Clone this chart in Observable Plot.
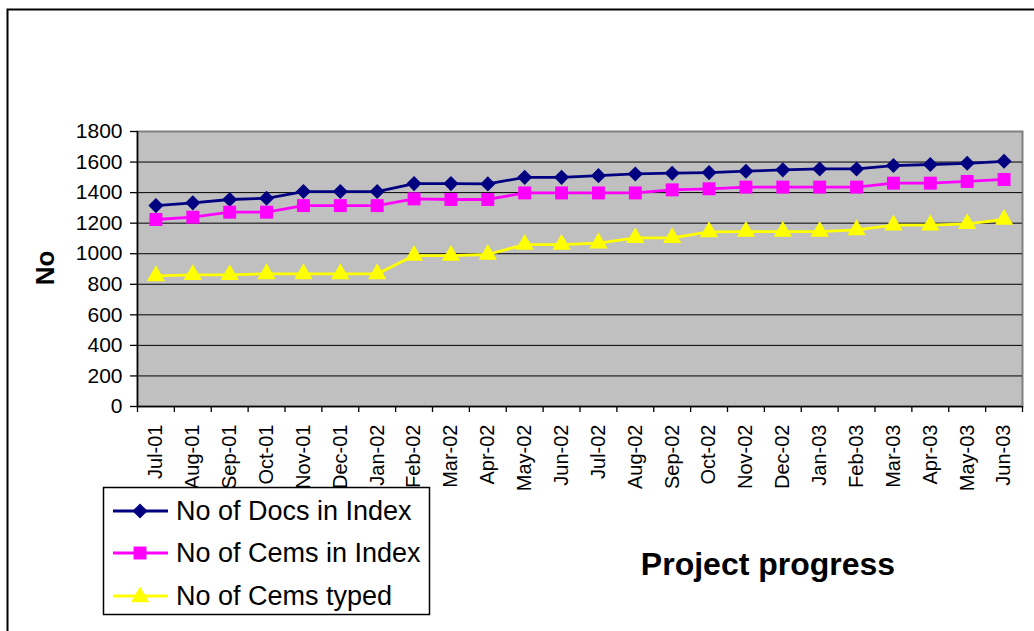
<!DOCTYPE html>
<html>
<head>
<meta charset="utf-8">
<script src="https://cdn.jsdelivr.net/npm/d3@7"></script>
<script src="https://cdn.jsdelivr.net/npm/@observablehq/plot@0.6"></script>
<style>
  html, body { margin: 0; padding: 0; background: #fff; }
  #chart { position: relative; width: 1034px; height: 631px; overflow: hidden; }
  svg { display: block; }
</style>
</head>
<body>
<div id="chart"></div>
<script>
const months = ["Jul-01","Aug-01","Sep-01","Oct-01","Nov-01","Dec-01","Jan-02","Feb-02","Mar-02","Apr-02","May-02","Jun-02","Jul-02","Aug-02","Sep-02","Oct-02","Nov-02","Dec-02","Jan-03","Feb-03","Mar-03","Apr-03","May-03","Jun-03"];
const docsInIndex = [1315,1333,1355,1363,1407,1407,1407,1459,1459,1457,1500,1500,1511,1522,1527,1531,1540,1549,1555,1555,1577,1584,1592,1605];
const cemsInIndex = [1224,1239,1272,1272,1315,1315,1315,1359,1355,1355,1398,1398,1398,1398,1418,1425,1436,1436,1436,1436,1462,1462,1473,1486];
const cemsTyped = [855,862,862,868,868,868,868,988,988,995,1060,1060,1069,1104,1104,1143,1145,1145,1145,1156,1187,1187,1196,1224];
const yTicks = [0,200,400,600,800,1000,1200,1400,1600,1800];
const seriesNames = ["No of Docs in Index","No of Cems in Index","No of Cems typed"];
const seriesColors = ["#000080","#ff00ff","#ffff00"];
const seriesSymbols = ["diamond2","square","triangle"];
const seriesR = [6.8, 7.3, 6.8];

const allSeries = [docsInIndex, cemsInIndex, cemsTyped];
const rows = allSeries.flatMap((vals, s) => vals.map((v, i) => ({i, v, s})));

const font = "'Liberation Sans', Arial, sans-serif";

const marks = [
  Plot.frame({fill: "#c0c0c0", stroke: "#808080", strokeWidth: 2}),
  Plot.ruleY(yTicks.filter(d => d > 0 && d < 1800), {stroke: "black", strokeWidth: 1}),
  Plot.axisY({ticks: yTicks, tickSize: 7, tickPadding: 8, tickFormat: d3.format("d"), label: null, fontSize: 21, strokeWidth: 1.3}),
  Plot.axisX({ticks: d3.range(-0.5, 24, 1), tickSize: 6, tickFormat: () => "", label: null, strokeWidth: 1.3}),
  Plot.axisX({ticks: d3.range(0, 24), tickSize: 0, tickPadding: 18, tickRotate: -90, tickFormat: i => months[i], label: null, fontSize: 20}),
  Plot.ruleX([-0.5], {stroke: "black", strokeWidth: 1.5}),
  Plot.ruleY([0], {stroke: "black", strokeWidth: 1.5})
];
allSeries.forEach((vals, s) => {
  const d = rows.filter(r => r.s === s);
  marks.push(Plot.line(d, {x: "i", y: "v", stroke: seriesColors[s], strokeWidth: 2.8}));
});
allSeries.forEach((vals, s) => {
  const d = rows.filter(r => r.s === s);
  marks.push(Plot.dot(d, {x: "i", y: "v", symbol: () => seriesSymbols[s], fill: seriesColors[s], stroke: "none", r: seriesR[s]}));
});

const chart = Plot.plot({
  width: 1034,
  height: 631,
  marginLeft: 137,
  marginRight: 12,
  marginTop: 131,
  marginBottom: 225,
  style: {fontFamily: font, fontSize: "20px", color: "black", background: "white"},
  x: {domain: [-0.5, 23.5]},
  y: {domain: [0, 1800]},
  symbol: {type: "identity"},
  marks
});
document.getElementById("chart").appendChild(chart);

const svg = d3.select(chart);
// outer chart border (cropped at right and bottom)
svg.append("rect").attr("x", 7.5).attr("y", 9.5).attr("width", 1040).attr("height", 640)
  .attr("fill", "none").attr("stroke", "black").attr("stroke-width", 2);

// y axis title
svg.append("text").attr("transform", "translate(54,268) rotate(-90)")
  .attr("text-anchor", "middle").attr("font-family", font).attr("font-weight", "bold")
  .attr("font-size", 26).attr("fill", "black").text("No");

// x axis title
svg.append("text").attr("x", 768).attr("y", 575)
  .attr("text-anchor", "middle").attr("font-family", font).attr("font-weight", "bold")
  .attr("font-size", 32).attr("fill", "black").text("Project progress");

// legend
const lg = svg.append("g");
lg.append("rect").attr("x", 103.5).attr("y", 487.5).attr("width", 326).attr("height", 127)
  .attr("fill", "white").attr("stroke", "black").attr("stroke-width", 1.5);
const rowY = [511, 553, 596];
seriesNames.forEach((name, s) => {
  const y = rowY[s];
  lg.append("line").attr("x1", 113).attr("x2", 168).attr("y1", y).attr("y2", y)
    .attr("stroke", seriesColors[s]).attr("stroke-width", 2.8);
  lg.append("path").attr("transform", `translate(140,${y + (s === 2 ? 1 : 0)})`)
    .attr("d", d3.symbol(s === 0 ? d3.symbolDiamond2 : s === 1 ? d3.symbolSquare : d3.symbolTriangle, Math.PI * seriesR[s] * seriesR[s])())
    .attr("fill", seriesColors[s]);
  lg.append("text").attr("x", 176).attr("y", y + 9).attr("text-anchor", "start").attr("font-family", font)
    .attr("font-size", 27).attr("fill", "black").text(name);
});
</script>
</body>
</html>
